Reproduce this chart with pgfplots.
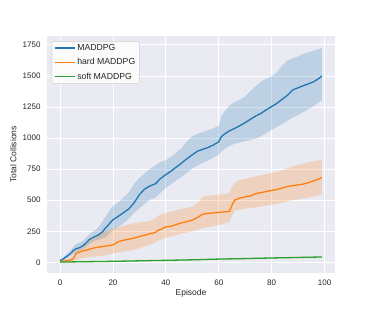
\documentclass[border=0pt]{standalone}
\usepackage{pgfplots}
\pgfplotsset{compat=1.18}
\usepgfplotslibrary{fillbetween}
\usepackage{pgfplotstable}
\usepackage{fontspec}
\setmainfont{Liberation Sans}
\definecolor{sbblue}{HTML}{1F77B4}
\definecolor{sborange}{HTML}{FF7F0E}
\definecolor{sbgreen}{HTML}{2CA02C}
\definecolor{sbbg}{HTML}{EAEAF2}
\definecolor{sbtext}{HTML}{262626}
\definecolor{legframe}{HTML}{CCCCCC}
\definecolor{legfill}{HTML}{FBFBFC}

\pgfplotstableread{
x m l h
0 15 10 20
1 25 15 35
2 40 25 55
3 55 38 75
4 72 52 98
5 95 65 125
6 110 78 148
7 115 88 155
8 125 98 165
9 140 110 180
10 160 128 202
11 182 145 225
12 195 162 242
13 205 172 255
14 215 180 272
15 228 186 298
16 245 192 330
17 272 200 362
18 295 218 395
19 320 240 428
20 342 258 455
22 370 285 482
24 400 315 522
26 430 350 565
28 480 398 632
30 545 435 680
32 590 470 716
34 615 505 752
36 632 520 780
38 675 560 810
40 706 600 822
42 735 630 850
44 768 660 885
46 800 690 920
48 835 720 975
50 866 755 1015
52 895 780 1035
54 910 800 1050
56 925 820 1065
58 945 845 1080
60 970 865 1100
61 1012 890 1180
62 1030 910 1210
64 1058 935 1262
66 1078 955 1290
68 1100 965 1310
70 1125 975 1335
72 1152 985 1380
74 1178 995 1420
76 1200 1015 1455
78 1228 1040 1478
80 1254 1066 1498
82 1280 1090 1530
84 1313 1112 1585
86 1345 1140 1625
88 1388 1165 1642
90 1405 1185 1658
92 1422 1210 1678
94 1438 1235 1692
96 1455 1258 1706
98 1482 1290 1718
99 1500 1307 1725
}\blue

\pgfplotstableread{
x m l h
0 5 0 10
1 8 1 18
2 12 2 25
3 15 3 32
4 18 5 40
5 30 8 58
6 70 18 97
7 80 24 115
8 88 30 130
9 95 35 145
10 98 38 152
12 112 42 185
14 120 48 215
16 127 52 248
18 133 60 258
20 140 70 266
21 152 75 275
22 166 80 285
24 178 86 295
26 186 92 305
28 195 100 316
30 208 115 322
32 218 128 326
34 230 142 332
36 240 160 355
37 258 175 375
38 265 182 382
40 285 196 397
42 290 208 410
44 305 220 420
46 318 232 432
48 328 240 440
50 340 248 448
52 362 262 478
54 388 275 525
56 394 285 536
58 398 292 540
60 402 300 545
62 406 312 550
64 410 324 556
65 460 375 610
66 500 415 640
68 518 425 662
70 526 432 672
72 535 438 682
74 553 442 692
76 561 450 702
78 570 458 712
80 579 464 720
82 586 470 730
84 598 480 742
86 610 490 756
88 618 500 772
90 623 507 784
92 630 514 796
94 642 522 806
96 656 530 814
98 672 540 822
99 684 544 825
}\orange

\pgfplotstableread{
x m l h
0 2 0 3
10 5 3 7
20 8 6 11
30 12 9 15
40 16 13 19
50 20 17 24
60 26 22 30
70 30 26 34
80 35 31 39
90 39 35 43
99 43 39 47
}\green

\begin{document}
\begin{tikzpicture}
\path (0pt,0pt) rectangle (374pt,312pt);
\begin{axis}[
  at={(47pt,39pt)}, anchor=south west,
  scale only axis, width=288pt, height=237pt,
  xmin=-4.95, xmax=103.95, ymin=-86, ymax=1822,
  axis background/.style={fill=sbbg},
  axis line style={draw=none},
  grid=major, grid style={white, line width=0.9pt},
  major tick length=0pt,
  xtick={0,20,...,100}, ytick={0,250,...,1750},
  scaled y ticks=false,
  /pgf/number format/1000 sep={},
  /pgf/number format/assume math mode=true,
  tick label style={font=\fontsize{8}{9}\selectfont, text=sbtext},
  yticklabel style={xshift=-3pt},
  xticklabel style={yshift=-3.5pt},
  xlabel={Episode}, ylabel={Total Collisions},
  label style={font=\fontsize{8.5}{10}\selectfont, text=sbtext},
  xlabel style={at={(axis description cs:0.5,-0.0857)}, anchor=center},
  ylabel style={at={(axis description cs:-0.117,0.5)}, anchor=center},
  legend cell align=left,
  legend image code/.code={\draw[#1] (0pt,0pt) -- (17pt,0pt); \path (0pt,0pt) -- (20pt,0pt);},
  legend style={at={(axis description cs:0,1)}, anchor=north west,
    xshift=4.7pt, yshift=-5.2pt,
    fill=legfill, draw=legframe, rounded corners=2pt,
    font=\fontsize{8.7}{10}\selectfont, text=sbtext,
    inner xsep=2pt, inner ysep=1pt, row sep=2.5pt},
]
\addlegendimage{sbblue, line width=1.4pt}
\addlegendentry{MADDPG}
\addlegendimage{sborange, line width=1.4pt}
\addlegendentry{hard MADDPG}
\addlegendimage{sbgreen, line width=1.4pt}
\addlegendentry{soft MADDPG}

\addplot[draw=none, name path=bh, forget plot] table[x=x,y=h]{\blue};
\addplot[draw=none, name path=bl, forget plot] table[x=x,y=l]{\blue};
\addplot[fill=sbblue, fill opacity=0.22, draw=none, forget plot] fill between[of=bh and bl];
\addplot[draw=none, name path=oh, forget plot] table[x=x,y=h]{\orange};
\addplot[draw=none, name path=ol, forget plot] table[x=x,y=l]{\orange};
\addplot[fill=sborange, fill opacity=0.22, draw=none, forget plot] fill between[of=oh and ol];
\addplot[draw=none, name path=gh, forget plot] table[x=x,y=h]{\green};
\addplot[draw=none, name path=gl, forget plot] table[x=x,y=l]{\green};
\addplot[fill=sbgreen, fill opacity=0.22, draw=none, forget plot] fill between[of=gh and gl];

\addplot[sbblue, line width=1.3pt, line join=round, forget plot] table[x=x,y=m]{\blue};
\addplot[sborange, line width=1.3pt, line join=round, forget plot] table[x=x,y=m]{\orange};
\addplot[sbgreen, line width=1.3pt, line join=round, forget plot] table[x=x,y=m]{\green};
\end{axis}
\end{tikzpicture}
\end{document}
